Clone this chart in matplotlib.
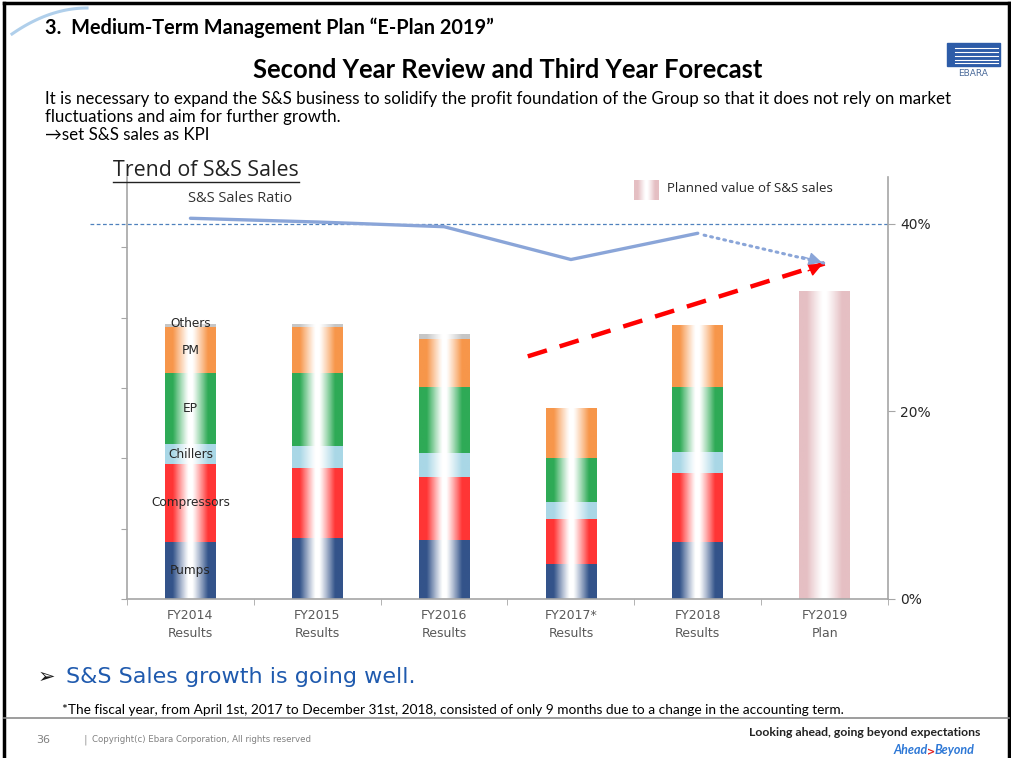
import numpy as np
import matplotlib
matplotlib.use('Agg')
import matplotlib.pyplot as plt
import matplotlib.colors as mcolors
from matplotlib.lines import Line2D
from matplotlib.patches import Rectangle
from matplotlib.transforms import blended_transform_factory

# ---- data (left axis: sales, arbitrary units / right axis: ratio %) ----
categories = ['FY2014\nResults', 'FY2015\nResults', 'FY2016\nResults',
              'FY2017*\nResults', 'FY2018\nResults', 'FY2019\nPlan']
segment_names = ['Pumps', 'Compressors', 'Chillers', 'EP', 'PM', 'Others']
pumps = [0.81, 0.87, 0.84, 0.50, 0.81, 0]
compressors = [1.11, 0.99, 0.90, 0.64, 0.98, 0]
chillers = [0.28, 0.32, 0.33, 0.24, 0.30, 0]
ep = [1.01, 1.03, 0.95, 0.63, 0.93, 0]
pm = [0.66, 0.66, 0.68, 0.71, 0.88, 0]
others = [0.04, 0.04, 0.06, 0.0, 0.0, 0]
plan = [0, 0, 0, 0, 0, 4.37]

ratio = [40.6, 40.2, 39.7, 36.2, 39.0]     # S&S sales ratio FY2014-FY2018
ratio_plan = 35.8                          # FY2019 forecast
trend_x = [2.66, 5.0]                      # red dashed trend arrow
trend_y = [3.45, 4.77]

seg_colors = ['#34548a', '#ff3535', '#a9d7e6', '#2eaa56', '#f7964a', '#c6c6c6']
plan_color = '#e5bfc3'

W, H = 1012, 758


def fx(x):
    return x / W


def fy(y):
    return 1 - y / H


def grad_img(color, n=64):
    rgb = np.array(mcolors.to_rgb(color))
    t = np.abs(np.linspace(-1, 1, n))
    w = np.clip((t - 0.08) / 0.62, 0, 1) ** 1.1
    img = 1 - w[:, None] * (1 - rgb[None, :])
    return img[None, :, :]


def fill_gradient(axis, patches, color):
    img = grad_img(color)
    for p in patches:
        if p.get_height() <= 0:
            continue
        x0, y0 = p.get_x(), p.get_y()
        axis.imshow(img, extent=[x0, x0 + p.get_width(), y0, y0 + p.get_height()],
                    aspect='auto', interpolation='bilinear', zorder=2)


fig = plt.figure(figsize=(W / 100, H / 100), dpi=100)

# slide frame
for xs, ys in [([fx(4), fx(4)], [0, fy(3)]), ([fx(4), fx(1009)], [fy(3), fy(3)]),
               ([fx(1009), fx(1009)], [fy(3), 0])]:
    fig.add_artist(Line2D(xs, ys, color='black', lw=2.5))

# swoosh top-left
s = np.linspace(0, 1, 40)
fig.add_artist(Line2D(fx(12 + 75 * s), fy(34 - 26 * (1 - (1 - s) ** 2)),
                      color='#9cc4e6', lw=2.2, alpha=0.8))

# logo
fig.add_artist(Rectangle((fx(947), fy(66)), fx(53), 23 / H, color='#2d5ca8'))
for yy in [48, 52, 56, 60, 63]:
    fig.add_artist(Line2D([fx(955), fx(998)], [fy(yy), fy(yy)], color='white', lw=0.8))
fig.text(fx(973), fy(73), 'EBARA', fontsize=6.5, color='#4a6a9a', ha='center',
         va='center', family='DejaVu Sans')

# titles and text
fig.text(fx(45), fy(28), '3.  Medium-Term Management Plan \u201cE-Plan 2019\u201d',
         fontsize=14.3, weight='bold', family='Lato', va='center')
fig.text(fx(508), fy(70), 'Second Year Review and Third Year Forecast',
         fontsize=18.4, weight='bold', family='Lato', ha='center', va='center')
fig.text(fx(45), fy(99), 'It is necessary to expand the S&S business to solidify the profit '
         'foundation of the Group so that it does not rely on market',
         fontsize=12.2, family='Lato', va='center')
fig.text(fx(45), fy(117), 'fluctuations and aim for further growth.',
         fontsize=12.2, family='Lato', va='center')
fig.text(fx(45), fy(135), '\u2192set S&S sales as KPI',
         fontsize=12.2, family=['Lato', 'DejaVu Sans'], va='center')

fig.text(fx(113), fy(171), 'Trend of S&S Sales', fontsize=15.4, family='Open Sans',
         va='center', color='#222222')
fig.add_artist(Line2D([fx(113), fx(299)], [fy(182), fy(182)], color='#222222', lw=1))
fig.text(fx(188), fy(199), 'S&S Sales Ratio', fontsize=10.5, family='Open Sans',
         va='center', color='#333333')

# ---- chart ----
ax = fig.add_axes([fx(127), fy(599), (888 - 127) / W, (599 - 177) / H])
x = np.arange(len(categories))
bw = 0.4
bottom = np.zeros(len(categories))
for name, vals, col in zip(segment_names, [pumps, compressors, chillers, ep, pm, others],
                           seg_colors):
    bars = ax.bar(x, vals, bw, bottom=bottom, color='none', edgecolor='none')
    fill_gradient(ax, bars, col)
    # segment labels on the first bar
    mid = bottom[0] + vals[0] / 2 if name != 'Others' else bottom[0] + vals[0]
    ax.text(x[0], mid, name, ha='center', va='center', fontsize=8.7,
            color='#262626', zorder=5)
    bottom += np.array(vals)
pbars = ax.bar(x, plan, bw, color='none', edgecolor='none')
fill_gradient(ax, pbars, plan_color)

# red dashed trend arrow
ax.plot(trend_x, trend_y, color='#ff0000', lw=3.2, dashes=(4.5, 3), zorder=6,
        solid_capstyle='butt')
ax.annotate('', xy=(trend_x[1], trend_y[1]),
            xytext=(trend_x[1] - 0.15, trend_y[1] - 0.12),
            arrowprops=dict(arrowstyle='-|>', color='#ff0000', lw=1,
                            mutation_scale=20), zorder=6)

ax.set_xlim(-0.5, len(categories) - 0.5)
ax.set_ylim(0, 6)
ax.set_yticks(range(0, 6))
ax.set_yticklabels([])
ax.tick_params(axis='y', direction='out', length=4, color='#a6a6a6')
ax.set_xticks(x)
ax.set_xticklabels(categories, fontsize=9, color='#595959', linespacing=1.5)
ax.set_xticks(np.arange(-0.5, len(categories)), minor=True)
ax.tick_params(axis='x', which='major', length=0, pad=7)
ax.tick_params(axis='x', which='minor', direction='out', length=4, color='#a6a6a6')
for sp in ['top', 'right']:
    ax.spines[sp].set_visible(False)
for sp in ['left', 'bottom']:
    ax.spines[sp].set_color('#a6a6a6')
    ax.spines[sp].set_linewidth(1.2)

ax2 = ax.twinx()
ax2.set_ylim(0, 45)
ax2.set_yticks([0, 20, 40])
ax2.set_yticklabels(['0%', '20%', '40%'], fontsize=10, color='#262626')
ax2.tick_params(axis='y', direction='out', length=5, color='#a6a6a6', pad=4)
for sp in ['top', 'left', 'bottom']:
    ax2.spines[sp].set_visible(False)
ax2.spines['right'].set_color('#a6a6a6')
ax2.spines['right'].set_linewidth(1.2)

tr = blended_transform_factory(ax2.transAxes, ax2.transData)
ax2.plot([(90 - 127) / 761, 1], [40, 40], transform=tr, color='#4f81bd', lw=0.9,
         dashes=(3, 2), clip_on=False)
ax2.plot(x[:len(ratio)], ratio, color='#8aa5d8', lw=2.4, solid_capstyle='round')
ax2.plot([x[len(ratio) - 1] + 0.05, x[-1]], [ratio[-1] - 0.2, ratio_plan], color='#8aa5d8',
         lw=2.2, ls=(0, (0.6, 1.6)), dash_capstyle='round')
ax2.annotate('', xy=(x[-1], ratio_plan), xytext=(x[-1] - 0.2, ratio_plan + 0.8),
             arrowprops=dict(arrowstyle='-|>', color='#8aa5d8', lw=1,
                             mutation_scale=20))

# legend for the plan bar
lax = fig.add_axes([fx(634), fy(200), 25 / W, 20 / H])
lax.imshow(grad_img(plan_color), aspect='auto', interpolation='bilinear')
lax.axis('off')
fig.text(fx(667), fy(189), 'Planned value of S&S sales', fontsize=9.5,
         family='Open Sans', va='center', color='#262626')

# bottom text
fig.text(fx(38), fy(677), '\u27a2', fontsize=15, family='DejaVu Sans', va='center',
         color='#1a1a1a')
fig.text(fx(66), fy(677), 'S&S Sales growth is going well.', fontsize=16,
         family='DejaVu Sans', va='center', color='#1f5aae')
fig.text(fx(62), fy(710), '*The fiscal year, from April 1st, 2017 to December 31st, 2018, '
         'consisted of only 9 months due to a change in the accounting term.',
         fontsize=9.8, family='Lato', va='center')
fig.add_artist(Line2D([fx(4), fx(1009)], [fy(718), fy(718)], color='#8c8c8c', lw=1.2))
fig.text(fx(36), fy(740), '36', fontsize=8, color='#808080', va='center')
fig.text(fx(84), fy(740), '|', fontsize=8, color='#999999', va='center')
fig.text(fx(92), fy(740), 'Copyright(c) Ebara Corporation, All rights reserved',
         fontsize=6.2, color='#808080', va='center')
fig.text(fx(980), fy(733), 'Looking ahead, going beyond expectations', fontsize=8.8,
         weight='bold', family='Lato', ha='right', va='center', color='#222222')
fig.text(fx(928), fy(750), 'Ahead', fontsize=9, weight='bold', style='italic',
         family='Lato', ha='right', va='center', color='#2e78d6')
fig.text(fx(931), fy(752), '>', fontsize=7, weight='bold',
         family='DejaVu Sans', ha='center', va='center', color='#e02020')
fig.text(fx(935), fy(750), 'Beyond', fontsize=9, weight='bold', style='italic',
         family='Lato', ha='left', va='center', color='#2e78d6')

fig.savefig('out.png', dpi=100)
